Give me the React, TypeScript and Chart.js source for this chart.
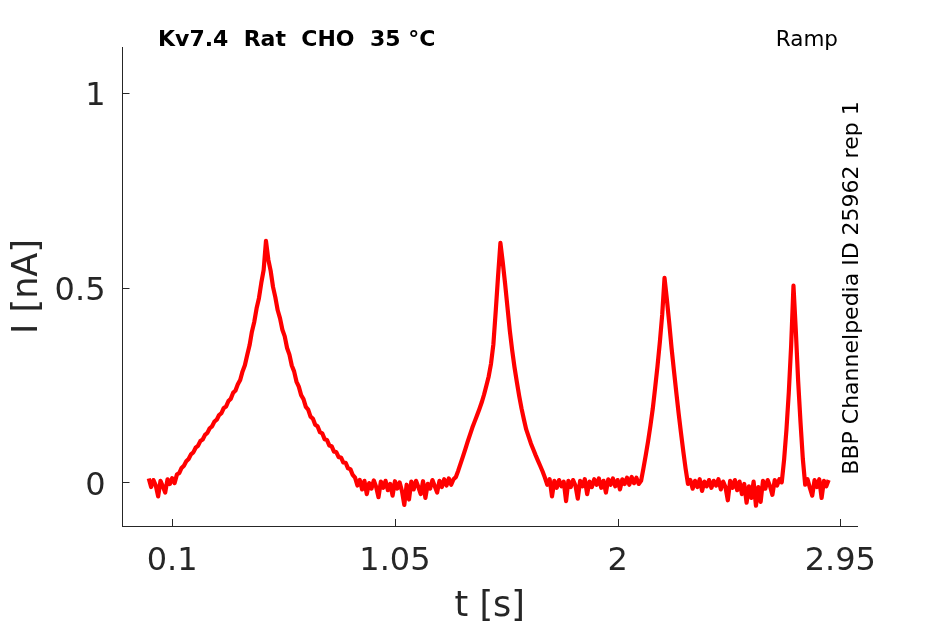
import React, { useEffect, useRef } from "react";
import { Chart, registerables } from "chart.js";

Chart.register(...registerables);

// Sampling interval of the recorded trace (s); trace starts at t = 0
const SAMPLE_INTERVAL_S = 0.01;

// Current trace I [nA], in consecutive segments (0.00 s .. 2.90 s)
const baselinePre = [0.010, -0.012, 0.006, -0.008, -0.036, 0.004, -0.010, -0.026, 0.008, -0.004, 0.011, -0.002];
const ramp1 = [
  0.020, 0.024, 0.037, 0.043, 0.054, 0.060, 0.072, 0.077, 0.089, 0.094,
  0.106, 0.110, 0.122, 0.127, 0.139, 0.144, 0.156, 0.161, 0.173, 0.178,
  0.191, 0.195, 0.209, 0.215, 0.230, 0.236, 0.252, 0.263, 0.285, 0.301,
  0.327, 0.352, 0.387, 0.412, 0.447, 0.473, 0.512, 0.545, 0.620,
  0.572, 0.543, 0.502, 0.475, 0.442, 0.421, 0.392, 0.375, 0.345, 0.328,
  0.300, 0.285, 0.259, 0.246, 0.224, 0.214, 0.194, 0.187, 0.169, 0.164,
  0.148, 0.144, 0.129, 0.126, 0.111, 0.109, 0.095, 0.093, 0.079, 0.078,
  0.065, 0.064, 0.051, 0.050, 0.036, 0.034, 0.019, 0.012,
];
const baselineA = [
  -0.008, 0.006, -0.018, 0.004, -0.030, -0.002, -0.016, 0.005, -0.012, -0.038,
  0.002, -0.014, 0.004, -0.020, -0.004, -0.034, 0.003, -0.016, 0.000, -0.022,
  -0.058, -0.006, -0.044, 0.002, -0.018, 0.004, -0.012, -0.030, 0.003, -0.040,
  -0.004, -0.016, 0.006, -0.010, -0.026, 0.004, -0.012, 0.008, -0.008, 0.010,
  -0.006, 0.008,
];
const ramp2 = [
  0.014, 0.030, 0.048, 0.066, 0.085, 0.104, 0.122, 0.140, 0.156, 0.172,
  0.188, 0.205, 0.225, 0.248, 0.272, 0.305, 0.355, 0.440, 0.530, 0.615,
  0.565, 0.510, 0.450, 0.390, 0.340, 0.296, 0.258, 0.222, 0.190, 0.162,
  0.136, 0.118, 0.100, 0.085, 0.070, 0.056, 0.042, 0.028, 0.012,
];
const baselineB = [
  -0.006, 0.008, -0.036, 0.004, -0.014, 0.006, -0.010, 0.002, -0.048, 0.004,
  -0.012, 0.006, -0.008, -0.042, 0.004, -0.010, 0.008, -0.030, 0.002, -0.012,
  0.008, -0.006, 0.010, -0.014, 0.004, -0.026, 0.008, -0.006, 0.010, -0.010,
  0.006, -0.018, 0.008, -0.004, 0.012, -0.006, 0.014, -0.002, 0.012, -0.004,
];
const ramp3 = [
  0.004, 0.036, 0.070, 0.106, 0.146, 0.190, 0.243, 0.298, 0.360, 0.430,
  0.525, 0.470, 0.410, 0.345, 0.288, 0.232, 0.178, 0.128, 0.080, 0.035,
];
const baselineC = [
  -0.004, 0.006, -0.016, 0.004, -0.012, 0.008, -0.022, 0.002, -0.010, 0.006,
  -0.014, 0.004, -0.008, 0.008, -0.018, 0.002, -0.012, -0.046, 0.004, -0.014,
  0.006, -0.020, 0.002, -0.030, -0.004, -0.052, -0.010, -0.040, 0.002, -0.060,
  -0.012, -0.050, 0.004, -0.016, 0.006, -0.010, -0.032, 0.006, -0.008, 0.008,
];
const ramp4 = [0.000, 0.058, 0.135, 0.230, 0.350, 0.505, 0.390, 0.260, 0.155, 0.060];
const baselinePost = [-0.006, 0.008, -0.014, -0.034, 0.006, -0.012, 0.008, -0.040, 0.004, -0.010, 0.006];

const currentNA = [
  ...baselinePre, ...ramp1, ...baselineA, ...ramp2, ...baselineB,
  ...ramp3, ...baselineC, ...ramp4, ...baselinePost,
];

// Axis ticks
const xTicks = [0.1, 1.05, 2, 2.95];
const yTicks = [0, 0.5, 1];
const X_MIN = -0.112;
const X_MAX = 3.021;
const Y_MIN = -0.112;
const Y_MAX = 1.118;

const TITLE_TEXT = "Kv7.4  Rat  CHO  35 °C";
const PROTOCOL_TEXT = "Ramp";
const SOURCE_TEXT = "BBP Channelpedia ID 25962 rep 1";

const AXIS_COLOR = "#262626";
const FONT = "'DejaVu Sans', sans-serif";

const decorPlugin = {
  id: "decor",
  afterDraw(chart: any) {
    const ctx = chart.ctx;
    const xs = chart.scales.x;
    const ys = chart.scales.y;
    const area = chart.chartArea;
    ctx.save();
    // inward tick marks
    ctx.strokeStyle = AXIS_COLOR;
    ctx.lineWidth = 1;
    ctx.beginPath();
    for (const v of xTicks) {
      const px = Math.round(xs.getPixelForValue(v)) + 0.5;
      ctx.moveTo(px, area.bottom);
      ctx.lineTo(px, area.bottom - 7);
    }
    for (const v of yTicks) {
      const py = Math.round(ys.getPixelForValue(v)) + 0.5;
      ctx.moveTo(area.left, py);
      ctx.lineTo(area.left + 7, py);
    }
    ctx.stroke();

    // annotations
    ctx.fillStyle = "#000";
    ctx.textBaseline = "alphabetic";
    ctx.font = `bold 22px ${FONT}`;
    ctx.textAlign = "left";
    ctx.fillText(TITLE_TEXT, 158, 46);
    ctx.font = `21.5px ${FONT}`;
    ctx.textAlign = "right";
    ctx.fillText(PROTOCOL_TEXT, 838, 46);
    ctx.font = `22px ${FONT}`;
    ctx.translate(858, 288);
    ctx.rotate(-Math.PI / 2);
    ctx.textAlign = "center";
    ctx.fillText(SOURCE_TEXT, 0, 0);
    ctx.restore();
  },
};

export default function App() {
  const canvasRef = useRef<HTMLCanvasElement | null>(null);

  useEffect(() => {
    document.body.style.margin = "0";
    const canvas = canvasRef.current;
    if (!canvas) return;
    const points = currentNA.map((y, i) => ({ x: +(i * SAMPLE_INTERVAL_S).toFixed(2), y }));
    const chart = new Chart(canvas, {
      type: "line",
      data: {
        datasets: [
          {
            data: points,
            borderColor: "#ff0000",
            borderWidth: 4.2,
            pointRadius: 0,
            borderJoinStyle: "round",
            tension: 0,
            fill: false,
          },
        ],
      },
      options: {
        animation: false,
        responsive: false,
        maintainAspectRatio: false,
        devicePixelRatio: 1,
        layout: { padding: { top: 47, right: 88, left: 0, bottom: 0 } },
        plugins: {
          legend: { display: false },
          tooltip: { enabled: false },
          title: { display: false },
        },
        scales: {
          x: {
            type: "linear",
            min: X_MIN,
            max: X_MAX,
            afterBuildTicks: (scale: any) => {
              scale.ticks = xTicks.map((v) => ({ value: v }));
            },
            afterFit: (scale: any) => {
              scale.height = 98;
            },
            ticks: {
              color: AXIS_COLOR,
              font: { family: FONT, size: 32 },
              padding: 16,
              maxRotation: 0,
              autoSkip: false,
              callback: (v: any) => String(v),
            },
            grid: { display: false, drawTicks: false },
            border: { display: true, color: AXIS_COLOR, width: 1 },
            title: {
              display: true,
              text: "t [s]",
              color: AXIS_COLOR,
              font: { family: FONT, size: 35, lineHeight: 1.0 },
              padding: { top: 0, bottom: 0 },
            },
          },
          y: {
            type: "linear",
            min: Y_MIN,
            max: Y_MAX,
            afterBuildTicks: (scale: any) => {
              scale.ticks = yTicks.map((v) => ({ value: v }));
            },
            afterFit: (scale: any) => {
              scale.width = 122.5;
            },
            ticks: {
              color: AXIS_COLOR,
              font: { family: FONT, size: 32 },
              padding: 17,
              labelOffset: 4,
              autoSkip: false,
              callback: (v: any) => String(v),
            },
            grid: { display: false, drawTicks: false },
            border: { display: true, color: AXIS_COLOR, width: 1 },
            title: {
              display: true,
              text: "I [nA]",
              color: AXIS_COLOR,
              font: { family: FONT, size: 35 },
              padding: { top: 7, bottom: 0 },
            },
          },
        },
      },
      plugins: [decorPlugin],
    });
    return () => chart.destroy();
  }, []);

  return (
    <div style={{ position: "fixed", left: 0, top: 0, width: 945, height: 624, background: "#fff" }}>
      <canvas ref={canvasRef} width={945} height={624} style={{ width: 945, height: 624, display: "block" }} />
    </div>
  );
}
